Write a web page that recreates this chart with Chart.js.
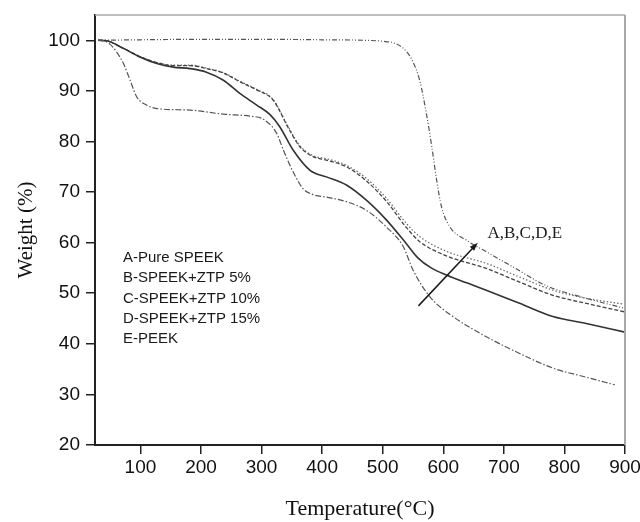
<!DOCTYPE html>
<html>
<head>
<meta charset="utf-8">
<script src="https://cdn.jsdelivr.net/npm/chart.js@4.4.0/dist/chart.umd.min.js"></script>
<style>
  html, body { margin: 0; padding: 0; background: #fff; }
</style>
</head>
<body>
<canvas id="tgaChart" width="640" height="522"></canvas>
<script>
// TGA curves: temperature (°C) and remaining weight (%) for each sample
const tempA = [30, 40, 49, 60, 72, 83, 94, 110, 127, 182, 237, 281, 303, 325, 336, 352, 369, 385, 407, 440, 473, 506, 534, 550, 578, 616, 671, 726, 781, 836, 883];
const weightA = [100, 99.9, 99.3, 97.8, 95.4, 92.1, 88.8, 87.2, 86.5, 86.2, 85.4, 85.0, 84.4, 81.6, 78.3, 74.0, 70.6, 69.5, 69.0, 68.1, 66.4, 63.1, 59.2, 54.6, 49.3, 45.4, 41.4, 38.1, 35.2, 33.4, 31.9];

const tempB = [30, 44, 72, 99, 127, 154, 182, 209, 237, 264, 292, 314, 330, 352, 380, 407, 440, 473, 506, 539, 558, 580, 605, 640, 671, 726, 781, 836, 900];
const weightB = [100, 99.9, 98.4, 96.7, 95.4, 94.7, 94.4, 93.7, 92.1, 89.5, 87.2, 85.3, 82.9, 78.3, 74.3, 73.0, 71.4, 68.4, 64.5, 59.8, 57.0, 55.0, 53.6, 52.0, 50.6, 48.0, 45.4, 44.0, 42.3];

const tempC = [30, 44, 72, 99, 127, 154, 182, 209, 237, 264, 292, 319, 345, 363, 385, 407, 440, 473, 506, 539, 561, 605, 671, 726, 781, 836, 900];
const weightC = [100, 99.9, 98.4, 96.8, 95.6, 95.0, 95.0, 94.4, 93.5, 91.8, 90.2, 88.2, 82.5, 79.0, 77.0, 76.3, 75.0, 72.2, 68.2, 63.0, 60.2, 57.4, 54.9, 52.2, 49.6, 48.0, 46.3];

const tempD = [30, 44, 72, 99, 127, 154, 182, 209, 237, 264, 292, 319, 345, 363, 385, 407, 440, 473, 506, 539, 561, 605, 671, 726, 781, 836, 900];
const weightD = [100, 99.9, 98.4, 96.8, 95.6, 95.1, 95.1, 94.5, 93.6, 91.9, 90.3, 88.3, 82.7, 79.2, 77.2, 76.6, 75.3, 72.7, 68.8, 63.8, 61.2, 58.3, 55.9, 53.2, 50.6, 49.0, 47.8];

const tempE = [30, 100, 200, 300, 400, 470, 500, 520, 535, 548, 561, 572, 581, 589, 597, 611, 638, 671, 715, 770, 836, 900];
const weightE = [100, 100.1, 100.2, 100.2, 100.1, 100, 99.8, 99.4, 98.3, 96.2, 92.1, 85.6, 79.0, 72.4, 67.1, 63.1, 60.5, 58.2, 55.2, 51.5, 49.0, 47.0];

const seriesNames = ['A-Pure SPEEK', 'B-SPEEK+ZTP 5%', 'C-SPEEK+ZTP 10%', 'D-SPEEK+ZTP 15%', 'E-PEEK'];

// arrow across the curves, from low to high residue
const arrowFrom = [559, 47.5];
const arrowTo = [657, 60];
const arrowLabel = 'A,B,C,D,E';
const arrowLabelAt = [673, 60.9];

function pairs(xs, ys) {
  return xs.map((x, i) => ({ x: x, y: ys[i] }));
}

function line(label, xs, ys, color, dash, width) {
  return {
    label: label,
    data: pairs(xs, ys),
    borderColor: color,
    borderWidth: width,
    borderDash: dash,
    pointRadius: 0,
    fill: false,
    cubicInterpolationMode: 'monotone'
  };
}

// top/right frame, series list and arrow annotation
const extras = {
  id: 'extras',
  afterDatasetsDraw(chart) {
    const { ctx, chartArea, scales } = chart;
    const { x, y } = scales;
    ctx.save();

    ctx.strokeStyle = '#a8a8a8';
    ctx.lineWidth = 1.5;
    ctx.beginPath();
    ctx.moveTo(chartArea.left, chartArea.top);
    ctx.lineTo(chartArea.right, chartArea.top);
    ctx.stroke();
    ctx.lineWidth = 2;
    ctx.beginPath();
    ctx.moveTo(chartArea.right, chartArea.top);
    ctx.lineTo(chartArea.right, chartArea.bottom);
    ctx.stroke();

    ctx.fillStyle = '#1a1a1a';
    ctx.font = '15px "Liberation Sans", Arial, sans-serif';
    ctx.textBaseline = 'middle';
    ctx.textAlign = 'left';
    seriesNames.forEach((name, i) => {
      ctx.fillText(name, chartArea.left + 28, chartArea.top + 243 + i * 20.3);
    });

    const x0 = x.getPixelForValue(arrowFrom[0]);
    const y0 = y.getPixelForValue(arrowFrom[1]);
    const x1 = x.getPixelForValue(arrowTo[0]);
    const y1 = y.getPixelForValue(arrowTo[1]);
    const ang = Math.atan2(y1 - y0, x1 - x0);
    const head = 9;
    ctx.strokeStyle = '#1a1a1a';
    ctx.lineWidth = 1.5;
    ctx.beginPath();
    ctx.moveTo(x0, y0);
    ctx.lineTo(x1 - Math.cos(ang) * head * 0.8, y1 - Math.sin(ang) * head * 0.8);
    ctx.stroke();
    ctx.beginPath();
    ctx.moveTo(x1, y1);
    ctx.lineTo(x1 - head * Math.cos(ang - 0.33), y1 - head * Math.sin(ang - 0.33));
    ctx.lineTo(x1 - head * Math.cos(ang + 0.33), y1 - head * Math.sin(ang + 0.33));
    ctx.closePath();
    ctx.fill();

    ctx.font = '17px "Liberation Serif", "Times New Roman", serif';
    ctx.textBaseline = 'alphabetic';
    ctx.fillText(arrowLabel, x.getPixelForValue(arrowLabelAt[0]), y.getPixelForValue(arrowLabelAt[1]));
    ctx.restore();
  }
};

const ctx = document.getElementById('tgaChart').getContext('2d');
new Chart(ctx, {
  type: 'line',
  data: {
    datasets: [
      line(seriesNames[0], tempA, weightA, '#555', [6, 2, 1.5, 2], 1.2),
      line(seriesNames[1], tempB, weightB, '#333', [], 1.6),
      line(seriesNames[2], tempC, weightC, '#444', [4, 2], 1.3),
      line(seriesNames[3], tempD, weightD, '#666', [1.5, 2], 1.2),
      line(seriesNames[4], tempE, weightE, '#555', [5, 2, 1, 2, 1, 2], 1.2)
    ]
  },
  plugins: [extras],
  options: {
    responsive: false,
    animation: false,
    layout: { padding: { top: 15, right: 15, left: 0, bottom: 0 } },
    plugins: {
      legend: { display: false },
      tooltip: { enabled: false }
    },
    scales: {
      x: {
        type: 'linear',
        min: 25,
        max: 900,
        afterFit: (scale) => {
          scale.height = 77;
          scale.paddingLeft = 0;
          scale.paddingRight = 0;
        },
        ticks: {
          stepSize: 100,
          includeBounds: false,
          color: '#111',
          padding: 2,
          maxRotation: 0,
          font: { family: '"Liberation Sans", Arial, sans-serif', size: 19 }
        },
        grid: { drawOnChartArea: false, tickLength: 9, color: '#222', lineWidth: 1.5 },
        border: { color: '#222', width: 2 },
        title: {
          display: true,
          text: 'Temperature(°C)',
          color: '#111',
          padding: { top: 0, bottom: 0 },
          font: { family: '"Liberation Serif", "Times New Roman", serif', size: 22 }
        }
      },
      y: {
        min: 20,
        max: 105,
        afterFit: (scale) => {
          scale.width = 95;
          scale.paddingTop = 0;
          scale.paddingBottom = 0;
        },
        ticks: {
          stepSize: 10,
          includeBounds: false,
          color: '#111',
          padding: 6,
          font: { family: '"Liberation Sans", Arial, sans-serif', size: 19 }
        },
        grid: { drawOnChartArea: false, tickLength: 9, color: '#222', lineWidth: 1.5 },
        border: { color: '#222', width: 2 },
        title: {
          display: true,
          text: 'Weight (%)',
          color: '#111',
          padding: { top: 14, bottom: 0 },
          font: { family: '"Liberation Serif", "Times New Roman", serif', size: 21 }
        }
      }
    }
  }
});
</script>
</body>
</html>
